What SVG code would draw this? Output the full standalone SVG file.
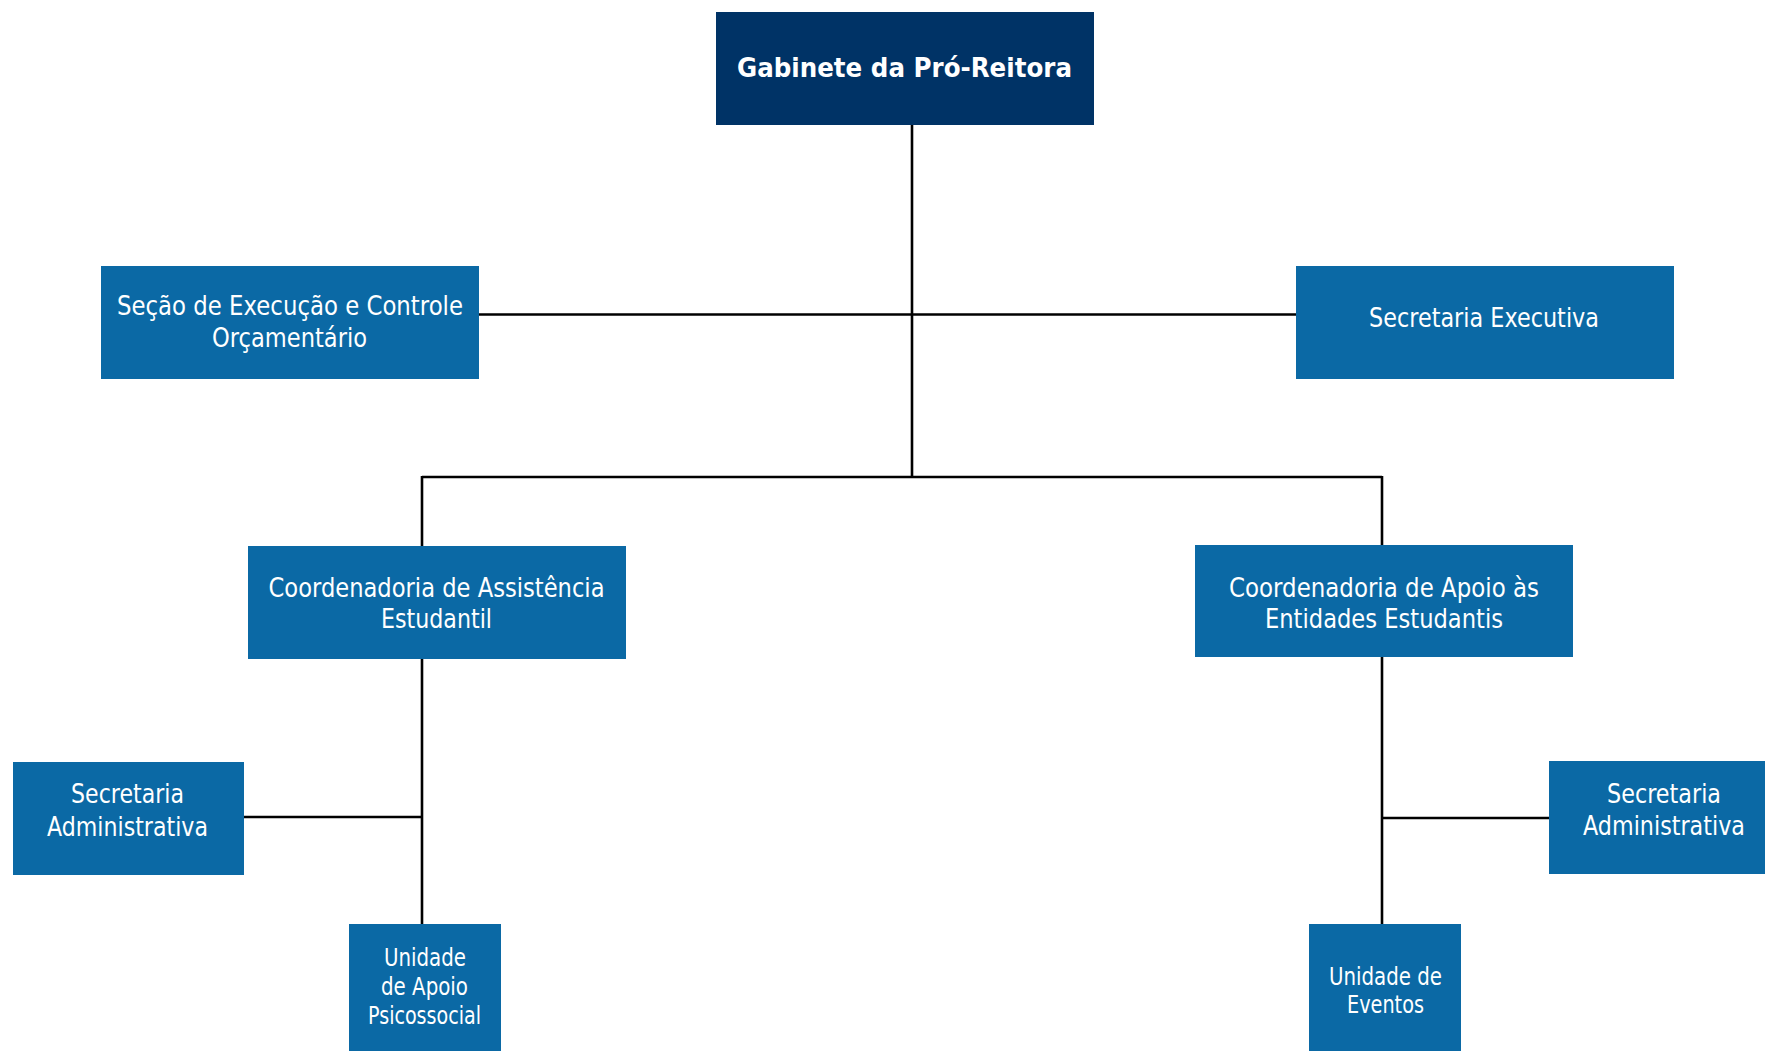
<svg xmlns="http://www.w3.org/2000/svg" width="1765" height="1051" viewBox="0 0 1765 1051">
<style>
.bg{fill:#ffffff}
.top{fill:#003366}
.box{fill:#0b69a5}
.t{font-family:"DejaVu Sans","Liberation Sans",sans-serif;font-size:27px;fill:#ffffff;text-anchor:middle}
.ts{font-size:24px}
.b{font-weight:bold}
.c{stroke:#000000;stroke-width:2.6;fill:none}
</style>
<rect class="bg" x="0" y="0" width="1765" height="1051"/>
<g id="connectors">
<path class="c" d="M912 125 V477"/>
<path class="c" d="M479 314.5 H1296"/>
<path class="c" d="M422 477 H1382"/>
<path class="c" d="M422 476 V546"/>
<path class="c" d="M1382 476 V545"/>
<path class="c" d="M422 659 V924"/>
<path class="c" d="M244 817 H422"/>
<path class="c" d="M1382 657 V924"/>
<path class="c" d="M1382 818 H1549"/>
</g>
<g id="gabinete">
<rect class="top" x="716" y="12" width="378" height="113"/>
<text class="t b" x="904.5" y="77" textLength="335" lengthAdjust="spacingAndGlyphs">Gabinete da Pró-Reitora</text>
</g>
<g id="secao">
<rect class="box" x="101" y="266" width="378" height="113"/>
<text class="t" x="290" y="315" textLength="346" lengthAdjust="spacingAndGlyphs">Seção de Execução e Controle</text>
<text class="t" x="289.5" y="347" textLength="155" lengthAdjust="spacingAndGlyphs">Orçamentário</text>
</g>
<g id="secexec">
<rect class="box" x="1296" y="266" width="378" height="113"/>
<text class="t" x="1484" y="327" textLength="230" lengthAdjust="spacingAndGlyphs">Secretaria Executiva</text>
</g>
<g id="coordassist">
<rect class="box" x="248" y="546" width="378" height="113"/>
<text class="t" x="436.5" y="597" textLength="336" lengthAdjust="spacingAndGlyphs">Coordenadoria de Assistência</text>
<text class="t" x="436.5" y="628" textLength="111" lengthAdjust="spacingAndGlyphs">Estudantil</text>
</g>
<g id="coordapoio">
<rect class="box" x="1195" y="545" width="378" height="112"/>
<text class="t" x="1384" y="597" textLength="310" lengthAdjust="spacingAndGlyphs">Coordenadoria de Apoio às</text>
<text class="t" x="1384" y="628" textLength="238" lengthAdjust="spacingAndGlyphs">Entidades Estudantis</text>
</g>
<g id="secadm1">
<rect class="box" x="13" y="762" width="231" height="113"/>
<text class="t" x="127.5" y="803" textLength="113" lengthAdjust="spacingAndGlyphs">Secretaria</text>
<text class="t" x="127.5" y="836" textLength="161" lengthAdjust="spacingAndGlyphs">Administrativa</text>
</g>
<g id="unidadeapoio">
<rect class="box" x="349" y="924" width="152" height="127"/>
<text class="t ts" x="425" y="966" textLength="82" lengthAdjust="spacingAndGlyphs">Unidade</text>
<text class="t ts" x="424.5" y="995" textLength="87" lengthAdjust="spacingAndGlyphs">de Apoio</text>
<text class="t ts" x="424.5" y="1024" textLength="113" lengthAdjust="spacingAndGlyphs">Psicossocial</text>
</g>
<g id="secadm2">
<rect class="box" x="1549" y="761" width="216" height="113"/>
<text class="t" x="1664" y="803" textLength="114" lengthAdjust="spacingAndGlyphs">Secretaria</text>
<text class="t" x="1664" y="835" textLength="162" lengthAdjust="spacingAndGlyphs">Administrativa</text>
</g>
<g id="unidadeeventos">
<rect class="box" x="1309" y="924" width="152" height="127"/>
<text class="t ts" x="1385.5" y="985" textLength="113" lengthAdjust="spacingAndGlyphs">Unidade de</text>
<text class="t ts" x="1385.5" y="1013" textLength="77" lengthAdjust="spacingAndGlyphs">Eventos</text>
</g>
</svg>
